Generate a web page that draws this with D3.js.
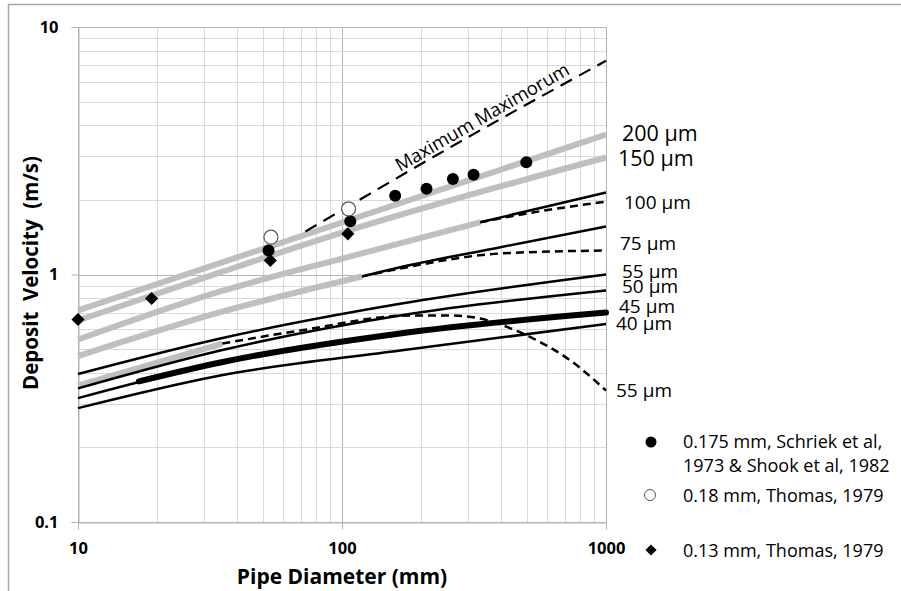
<!DOCTYPE html>
<html lang="en">
<head>
<meta charset="utf-8">
<title>deposit velocity</title>
<script src="https://cdn.jsdelivr.net/npm/d3@7"></script>
<style>
  body { margin: 0; background: #fff; }
  svg { font-family: 'Open Sans', sans-serif; }
</style>
</head>
<body>
<script>
// values: [pipe diameter mm, deposit velocity m/s]
var xTicks = [10, 100, 1000];
var yTicks = [0.1, 1, 10];

var gray200 = [[10, 0.716], [100, 1.622], [1000, 3.674]];
var gray150 = [[10, 0.652], [34.6, 1.02], [100, 1.477], [1000, 2.97]];
var gray100 = [[10, 0.546], [34.6, 0.854], [100, 1.16], [334, 1.626]];
var gray75 = [[10, 0.468], [34.6, 0.704], [119, 0.982]];
var gray55 = [[10, 0.356], [35.2, 0.526]];

var solid100 = [[334, 1.626], [495, 1.797], [1000, 2.143]];
var dash100 = [[334, 1.626], [495, 1.76], [1000, 1.97]];
var solid75 = [[119, 0.982], [166, 1.07], [398, 1.289], [1000, 1.562]];
var dash75 = [[119, 0.982], [166, 1.057], [398, 1.216], [1000, 1.25]];
var solid55 = [[10, 0.396], [34.6, 0.551], [166, 0.761], [1000, 1.0]];
var solid50 = [[10, 0.3465], [34.6, 0.493], [166, 0.683], [1000, 0.862]];
var line45 = [[10, 0.3166], [34.6, 0.441], [166, 0.578], [1000, 0.702]];
var thick45 = [[17, 0.37], [34.6, 0.441], [166, 0.578], [1000, 0.702]];
var solid40 = [[10, 0.2885], [34.6, 0.391], [166, 0.493], [1000, 0.631]];
var dash55 = [[35.2, 0.526], [69.5, 0.594], [181.6, 0.683], [257, 0.683], [334, 0.664],
              [398, 0.628], [531, 0.551], [715, 0.458], [1000, 0.34]];
var maxMax = [[72.6, 1.49], [316, 3.7], [1000, 7.3]];

var schriek = [[52.7, 1.25], [107.5, 1.64], [159, 2.08], [209, 2.22], [263, 2.43], [315, 2.53], [499, 2.84]];
var thomas018 = [[53.8, 1.415], [105.9, 1.84]];
var thomas013 = [[10, 0.658], [19, 0.80], [53.5, 1.14], [105.2, 1.46]];

var sizeLabels = ['200 \u03bcm', '150 \u03bcm', '100 \u03bcm', '75 \u03bcm', '55 \u03bcm', '50 \u03bcm', '45 \u03bcm', '40 \u03bcm', '55 \u03bcm'];
var sizeLabelV = [3.70, 2.94, 1.95, 1.33, 1.03, 0.895, 0.743, 0.634, 0.340];
var legendText = [['0.175 mm, Schriek et al,', '1973 & Shook et al, 1982'], ['0.18 mm, Thomas, 1979'], ['0.13 mm, Thomas, 1979']];

var W = 901, H = 591;
var pLeft = 78, pRight = 606, pTop = 27, pBottom = 522;

var svg = d3.select('body').append('svg')
    .attr('width', W).attr('height', H);

// outer frame (only top and left show)
svg.append('line').attr('x1', 8).attr('x2', W).attr('y1', 4.5).attr('y2', 4.5)
    .attr('stroke', '#a6a6a6').attr('stroke-width', 1.5);
svg.append('line').attr('x1', 8.5).attr('x2', 8.5).attr('y1', 4).attr('y2', H)
    .attr('stroke', '#a6a6a6').attr('stroke-width', 1.5);

var x = d3.scaleLog().domain([10, 1000]).range([pLeft, pRight]);
var y = d3.scaleLog().domain([0.1, 10]).range([pBottom, pTop]);

function isMajor(v) { return Math.abs(Math.log10(v) - Math.round(Math.log10(v))) < 1e-6; }

// grid
var grid = svg.append('g');
grid.selectAll('.vg').data(x.ticks()).enter().append('line')
    .attr('x1', d => Math.round(x(d)) + 0.5).attr('x2', d => Math.round(x(d)) + 0.5)
    .attr('y1', pTop).attr('y2', pBottom)
    .attr('stroke', d => isMajor(d) ? '#b4b4b4' : '#d9d9d9');
grid.selectAll('.hg').data(y.ticks()).enter().append('line')
    .attr('y1', d => Math.round(y(d)) + 0.5).attr('y2', d => Math.round(y(d)) + 0.5)
    .attr('x1', pLeft).attr('x2', pRight)
    .attr('stroke', d => isMajor(d) ? '#b4b4b4' : '#d9d9d9');

// axes
var xAxis = svg.append('g').attr('transform', 'translate(0,' + (pBottom + 0.5) + ')')
    .call(d3.axisBottom(x).tickValues(xTicks).tickSize(7).tickPadding(13).tickFormat(d3.format('d')));
var yAxis = svg.append('g').attr('transform', 'translate(' + (pLeft + 0.5) + ',0)')
    .call(d3.axisLeft(y).tickValues(yTicks).tickSize(7).tickPadding(13).tickFormat(d => String(d)));
[xAxis, yAxis].forEach(function (a) {
    a.select('.domain').attr('stroke', '#b4b4b4');
    a.selectAll('.tick line').attr('stroke', '#b4b4b4');
    a.selectAll('.tick text').attr('fill', '#000').style('font-size', '16.5px').style('font-weight', 'bold')
        .style('font-family', "'Open Sans', sans-serif");
});

var line = d3.line().x(d => x(d[0])).y(d => y(d[1])).curve(d3.curveMonotoneX);

function drawLine(data, color, width, dash) {
    return svg.append('path').attr('d', line(data))
        .attr('fill', 'none').attr('stroke', color).attr('stroke-width', width)
        .attr('stroke-dasharray', dash || null);
}

[gray200, gray150, gray100, gray75, gray55].forEach(d => drawLine(d, '#bfbfbf', 6));
[solid100, solid75, solid55, solid50, line45, solid40].forEach(d => drawLine(d, '#000', 2.5));
drawLine(thick45, '#000', 6).attr('stroke-linecap', 'round');
[dash100, dash75, dash55].forEach(d => drawLine(d, '#000', 2.5, '8,5'));
drawLine(maxMax, '#000', 2.2, '13,8');

// Maximum Maximorum label along the dashed line
svg.append('text')
    .attr('transform', 'translate(' + 400 + ',' + 172 + ') rotate(-30)')
    .style('font-size', '18.5px').text('Maximum Maximorum');

// measured points
svg.selectAll('.sch').data(schriek).enter().append('circle')
    .attr('cx', d => x(d[0])).attr('cy', d => y(d[1])).attr('r', 6).attr('fill', '#000');
svg.selectAll('.th18').data(thomas018).enter().append('circle')
    .attr('cx', d => x(d[0])).attr('cy', d => y(d[1])).attr('r', 7)
    .attr('fill', '#fff').attr('stroke', '#555').attr('stroke-width', 1.2);
var diamond = d3.symbol().type(d3.symbolDiamond2).size(110);
svg.selectAll('.th13').data(thomas013).enter().append('path')
    .attr('d', diamond)
    .attr('transform', d => 'translate(' + x(d[0]) + ',' + y(d[1]) + ')');

// size labels at the right end of the curves
var nudge = [3, -1, 5, 1, 3, 3, 0, -3, -3];
svg.selectAll('.lab').data(sizeLabels).enter().append('text')
    .attr('x', (d, i) => pRight + 13 + nudge[i])
    .attr('y', (d, i) => y(sizeLabelV[i]))
    .attr('dy', '0.35em')
    .style('font-size', (d, i) => i < 2 ? '21.5px' : '19px')
    .text(d => d);

// axis titles
svg.append('text')
    .attr('transform', 'translate(38,' + 273 + ') rotate(-90)')
    .attr('text-anchor', 'middle').style('font-size', '20.5px').style('font-weight', 'bold')
    .style('white-space', 'pre')
    .text('Deposit  Velocity  (m/s)');
svg.append('text')
    .attr('x', 342).attr('y', 584).attr('text-anchor', 'middle')
    .style('font-size', '21px').style('font-weight', 'bold')
    .text('Pipe Diameter (mm)');

// legend
var lg = svg.append('g').style('font-size', '18px');
lg.append('circle').attr('cx', 651).attr('cy', 442).attr('r', 5.5).attr('fill', '#000');
lg.append('circle').attr('cx', 650).attr('cy', 495).attr('r', 5.5).attr('fill', '#fff')
    .attr('stroke', '#555').attr('stroke-width', 1);
lg.append('path').attr('d', d3.symbol().type(d3.symbolDiamond2).size(80))
    .attr('transform', 'translate(651,550)');
var legY = [[448, 472], [502], [557]];
legendText.forEach(function (lines, i) {
    lines.forEach(function (t, j) {
        lg.append('text').attr('x', 683).attr('y', legY[i][j]).text(t);
    });
});
</script>
</body>
</html>
